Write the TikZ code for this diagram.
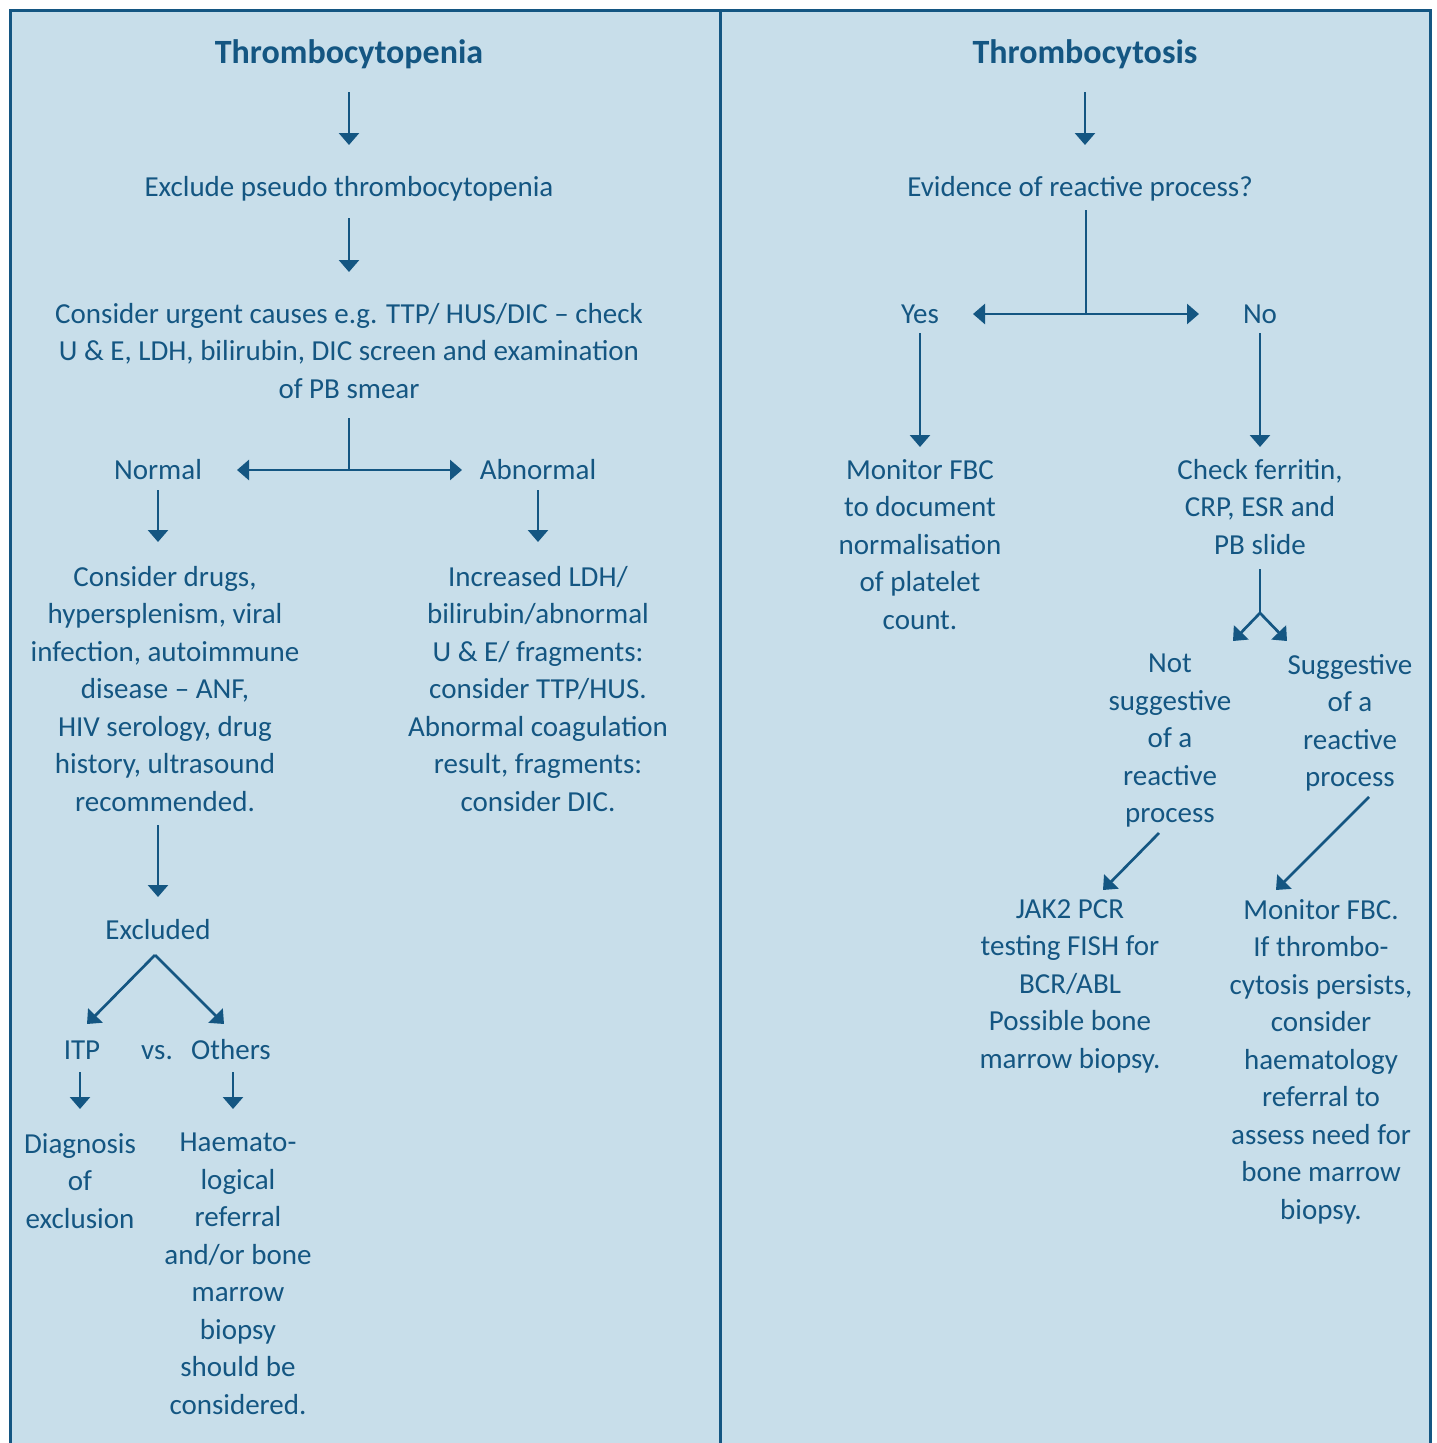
\documentclass[tikz,border=0pt]{standalone}
\usepackage{fontspec}
\setmainfont{Carlito}
\usetikzlibrary{arrows.meta}
\usetikzlibrary{positioning, calc}

\definecolor{panelblue}{RGB}{200,222,234}
\definecolor{inkblue}{RGB}{20,86,130}

\begin{document}
\begin{tikzpicture}
  [
    x=1pt, y=-1pt,
    >={Triangle[length=12pt,width=20pt]},
    txt/.style   = {text=inkblue, align=center, inner sep=0pt, anchor=base, font=\fontsize{29}{37.5}\selectfont},
    block/.style = {txt, anchor=north},
    head/.style  = {txt, font=\bfseries\fontsize{34}{40}\selectfont},
    arr/.style   = {draw=inkblue, line width=2.7pt, ->},
    split/.style = {draw=inkblue, line width=2.7pt, <->},
    stem/.style  = {draw=inkblue, line width=2.7pt},
  ]

  \useasboundingbox (0,0) rectangle (1436,1443);
  \clip (0,0) rectangle (1436,1443);

  % the panels
  \def\lw{3pt}
  \draw[draw=inkblue, line width=\lw, fill=panelblue] (10,10) rectangle (1430,1480);
  \draw[draw=inkblue, line width=\lw] (720,10) -- (720,1480);

  % Thrombocytopenia column
  \node (title1) at (349,63) [head] {Thrombocytopenia};
  \node (pseudo) at (349,196) [txt] {Exclude pseudo thrombocytopenia};
  \node (urgent) at (349,303) [block] {Consider urgent causes e.g. TTP/ HUS/DIC -- check\\U \& E, LDH, bilirubin, DIC screen and examination\\of PB smear};
  \node (normal) at (158,479) [txt] {Normal};
  \node (abnormal) at (538,479) [txt] {Abnormal};
  \node (drugs) at (165,566) [block] {Consider drugs,\\hypersplenism, viral\\infection, autoimmune\\disease -- ANF,\\HIV serology, drug\\history, ultrasound\\recommended.};
  \node (ldh) at (538,566) [block] {Increased LDH/\\bilirubin/abnormal\\U \& E/ fragments:\\consider TTP/HUS.\\Abnormal coagulation\\result, fragments:\\consider DIC.};
  \node (excluded) at (158,939) [txt] {Excluded};
  \node (itp) at (82,1059) [txt] {ITP};
  \node (vs) at (157,1059) [txt] {vs.};
  \node (others) at (231,1059) [txt] {Others};
  \node (diag) at (80,1133) [block] {Diagnosis\\of\\exclusion};
  \node (haem) at (238,1133) [block] {Haemato-\\logical\\referral\\and/or bone\\marrow\\biopsy\\should be\\considered.};

  % junctions and arrow ends
  \coordinate (t1a) at (349,92);   \coordinate (t1b) at (349,145);
  \coordinate (psa) at (349,218);  \coordinate (psb) at (349,272);
  \coordinate (urg) at (349,418);  \coordinate (fork1) at (349,470);
  \coordinate (nl) at (237,470);   \coordinate (nr) at (462,470);
  \coordinate (noa) at (158,490);  \coordinate (nob) at (158,542);
  \coordinate (aba) at (538,490);  \coordinate (abb) at (538,542);
  \coordinate (dra) at (158,825);  \coordinate (drb) at (158,897);
  \coordinate (apex) at (155,955);
  \coordinate (itpin) at (87,1024); \coordinate (othin) at (224,1024);
  \coordinate (ita) at (80,1072);  \coordinate (itb) at (80,1109);
  \coordinate (ota) at (233,1072); \coordinate (otb) at (233,1109);

  \draw[arr] (t1a) -- (t1b);
  \draw[arr] (psa) -- (psb);
  \draw[stem] (urg) -- (fork1);
  \draw[split] (nl) -- (nr);
  \draw[arr] (noa) -- (nob);
  \draw[arr] (aba) -- (abb);
  \draw[arr] (dra) -- (drb);
  \draw[arr] (apex) -- (itpin);
  \draw[arr] (apex) -- (othin);
  \draw[arr] (ita) -- (itb);
  \draw[arr] (ota) -- (otb);

  % Thrombocytosis column
  \node (title2) at (1085,63) [head] {Thrombocytosis};
  \node (evid) at (1080,196) [txt] {Evidence of reactive process?};
  \node (yes) at (920,323) [txt] {Yes};
  \node (no) at (1260,323) [txt] {No};
  \node (monitor) at (920,459) [block] {Monitor FBC\\to document\\normalisation\\of platelet\\count.};
  \node (ferritin) at (1260,459) [block] {Check ferritin,\\CRP, ESR and\\PB slide};
  \node (notsug) at (1170,654) [block] {Not\\suggestive\\of a\\reactive\\process};
  \node (sug) at (1350,654) [block] {Suggestive\\of a\\reactive\\process};
  \node (jak) at (1070,899) [block] {JAK2 PCR\\testing FISH for\\BCR/ABL\\Possible bone\\marrow biopsy.};
  \node (monfbc) at (1321,899) [block] {Monitor FBC.\\If thrombo-\\cytosis persists,\\consider\\haematology\\referral to\\assess need for\\bone marrow\\biopsy.};

  % junctions and arrow ends
  \coordinate (t2a) at (1085,92);  \coordinate (t2b) at (1085,145);
  \coordinate (eva) at (1086,210); \coordinate (fork2) at (1086,314);
  \coordinate (yl) at (973,314);   \coordinate (yr) at (1199,314);
  \coordinate (yea) at (920,333);  \coordinate (yeb) at (920,447);
  \coordinate (noaa) at (1260,333); \coordinate (nobb) at (1260,447);
  \coordinate (fea) at (1260,569); \coordinate (fork3) at (1260,613);
  \coordinate (fl) at (1233,641);  \coordinate (fr) at (1287,641);
  \coordinate (nsa) at (1159,833); \coordinate (nsb) at (1103,890);
  \coordinate (sga) at (1369,797); \coordinate (sgb) at (1276,890);

  \draw[arr] (t2a) -- (t2b);
  \draw[stem] (eva) -- (fork2);
  \draw[split] (yl) -- (yr);
  \draw[arr] (yea) -- (yeb);
  \draw[arr] (noaa) -- (nobb);
  \draw[stem] (fea) -- (fork3);
  \draw[arr] (fork3) -- (fl);
  \draw[arr] (fork3) -- (fr);
  \draw[arr] (nsa) -- (nsb);
  \draw[arr] (sga) -- (sgb);
\end{tikzpicture}
\end{document}
